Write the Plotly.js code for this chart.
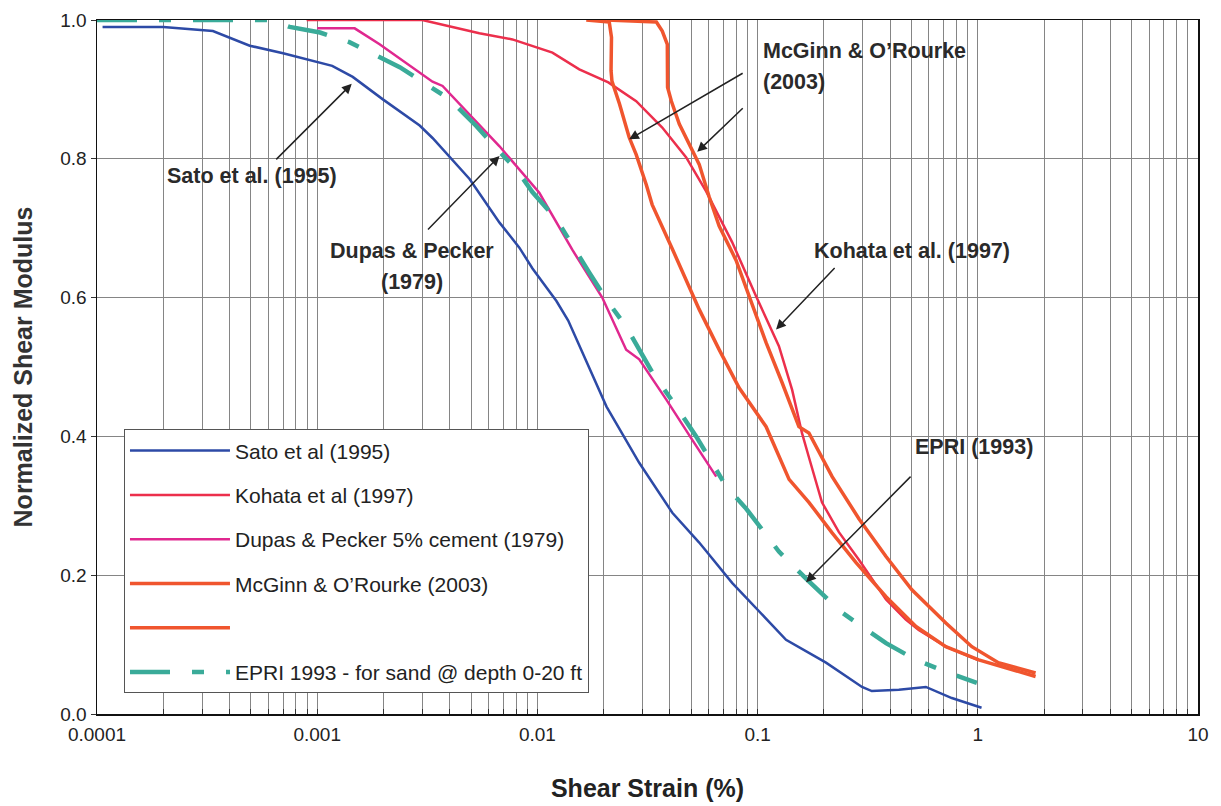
<!DOCTYPE html>
<html>
<head>
<meta charset="utf-8">
<script src="https://cdn.plot.ly/plotly-3.0.1.min.js"></script>
<style>html,body{margin:0;padding:0;background:#fff;}#chart{width:1221px;height:806px;}</style>
</head>
<body>
<div id="chart"></div>
<script>
// ---- data (shear strain in %, normalized shear modulus) ----
const satoX = [1.06e-4, 2.0e-4, 3.36e-4, 4.94e-4, 7.0e-4, 1.17e-3, 1.45e-3, 1.98e-3, 2.92e-3, 3.34e-3, 4.92e-3, 6.73e-3, 8.28e-3, 9.5e-3, 0.0122, 0.0138, 0.0206, 0.029, 0.041, 0.0543, 0.0766, 0.1346, 0.2045, 0.298, 0.330, 0.438, 0.581, 0.762, 1.04];
const satoY = [0.990, 0.990, 0.984, 0.963, 0.952, 0.934, 0.918, 0.886, 0.848, 0.830, 0.771, 0.708, 0.672, 0.642, 0.595, 0.567, 0.443, 0.362, 0.290, 0.247, 0.189, 0.107, 0.074, 0.039, 0.033, 0.035, 0.039, 0.023, 0.009];

const kohataX = [8.95e-4, 3.0e-3, 5.45e-3, 7.7e-3, 0.0117, 0.0155, 0.021, 0.0281, 0.0369, 0.0474, 0.0584, 0.0766, 0.0984, 0.125, 0.1435, 0.159, 0.171, 0.196, 0.234, 0.289, 0.383, 0.471, 0.539, 0.716, 1.0];
const kohataY = [1.0, 1.0, 0.981, 0.972, 0.953, 0.929, 0.910, 0.883, 0.845, 0.802, 0.753, 0.680, 0.602, 0.530, 0.467, 0.405, 0.370, 0.305, 0.262, 0.222, 0.165, 0.136, 0.121, 0.097, 0.078];

const dupasX = [1.0e-3, 1.48e-3, 1.92e-3, 2.71e-3, 3.34e-3, 3.71e-3, 6.73e-3, 0.0102, 0.0144, 0.0197, 0.0253, 0.029, 0.0385, 0.0505, 0.0649];
const dupasY = [0.988, 0.988, 0.965, 0.932, 0.911, 0.905, 0.818, 0.751, 0.669, 0.600, 0.525, 0.511, 0.453, 0.395, 0.342];

const mcginnAX = [0.01667, 0.0212, 0.0217, 0.0216, 0.0218, 0.0236, 0.0261, 0.0281, 0.0312, 0.0332, 0.0410, 0.0543, 0.0669, 0.0824, 0.1093, 0.139, 0.171, 0.218, 0.280, 0.383, 0.524, 0.716, 1.01, 1.43, 1.83];
const mcginnAY = [1.0, 0.997, 0.975, 0.927, 0.912, 0.879, 0.831, 0.806, 0.763, 0.734, 0.670, 0.583, 0.525, 0.470, 0.414, 0.338, 0.305, 0.261, 0.218, 0.169, 0.126, 0.097, 0.078, 0.064, 0.054];

const mcginnBX = [0.0206, 0.0347, 0.0369, 0.0389, 0.0390, 0.0406, 0.0441, 0.0489, 0.0543, 0.0603, 0.0669, 0.0798, 0.0914, 0.1093, 0.129, 0.154, 0.171, 0.218, 0.289, 0.383, 0.502, 0.716, 0.940, 1.24, 1.83];
const mcginnBY = [1.0, 0.997, 0.984, 0.965, 0.903, 0.883, 0.850, 0.821, 0.792, 0.745, 0.703, 0.654, 0.602, 0.535, 0.478, 0.414, 0.405, 0.342, 0.281, 0.227, 0.179, 0.131, 0.097, 0.074, 0.059];

const epriX = [1e-4, 6.1e-4, 7.5e-4, 1.03e-3, 1.40e-3, 2.37e-3, 3.99e-3, 5.29e-3, 6.73e-3, 8.03e-3, 9.49e-3, 0.0122, 0.0172, 0.0206, 0.0253, 0.0333, 0.0427, 0.0526, 0.072, 0.0887, 0.125, 0.166, 0.242, 0.383, 0.524, 0.739, 0.99];
const epriY = [1.0, 1.0, 0.990, 0.982, 0.968, 0.932, 0.886, 0.847, 0.810, 0.785, 0.752, 0.713, 0.636, 0.597, 0.558, 0.492, 0.443, 0.400, 0.328, 0.296, 0.234, 0.195, 0.146, 0.102, 0.078, 0.059, 0.045];

const seriesNames = ["Sato et al (1995)", "Kohata et al (1997)", "Dupas & Pecker 5% cement (1979)", "McGinn & O\u2019Rourke (2003)", " ", "EPRI 1993 - for sand @ depth 0-20 ft"];
const decadeTicks = [1e-4, 1e-3, 1e-2, 1e-1, 1, 10];
const decadeLabels = ["0.0001", "0.001", "0.01", "0.1", "1", "10"];

// ---- styling ----
const FONT = "Liberation Sans, Arial, Helvetica, sans-serif";
const colors = ["#2d4aa6", "#ec2f4c", "#e0288f", "#f0552e", "#f0552e", "#3aab99"];
const widths = [2.5, 2.5, 2.5, 3.5, 3.5, 4.5];

const xs = [satoX, kohataX, dupasX, mcginnAX, mcginnBX, epriX];
const ys = [satoY, kohataY, dupasY, mcginnAY, mcginnBY, epriY];

const traces = xs.map((x, i) => ({
  type: "scatter", mode: "lines", x: x, y: ys[i], name: seriesNames[i],
  legendgroup: "g" + i,
  line: {color: colors[i], width: widths[i], dash: i === 5 ? "40px,22px,12px,22px" : "solid"}
}));

// axis ticks: every 1..9 in each decade for grid lines, labels only on decades
const tickVals = [], tickText = [];
for (let d = 0; d < decadeTicks.length; d++) {
  const base = decadeTicks[d];
  for (let m = 1; m <= 9; m++) {
    if (d === decadeTicks.length - 1 && m > 1) break;
    tickVals.push(base * m);
    tickText.push(m === 1 ? decadeLabels[d] : "");
  }
}

const L = Math.log10;
function arrow(hx, hy, ax, ay) {
  return {x: L(hx), y: hy, xref: "x", yref: "y", ax: ax, ay: ay, axref: "pixel", ayref: "pixel",
          text: "", showarrow: true, arrowhead: 2, arrowsize: 1.3, arrowwidth: 1.5, arrowcolor: "#222"};
}
function label(x, y, txt, anchor) {
  return {x: L(x), y: y, xref: "x", yref: "y", text: "<b>" + txt + "</b>", showarrow: false,
          xanchor: anchor || "center", yanchor: "middle",
          font: {family: FONT, size: 21.5, color: "#2a2a2a"}};
}

const annotations = [
  arrow(1.435e-3, 0.908, -77, 77),
  arrow(6.73e-3, 0.804, -73, 75),
  arrow(0.0261, 0.828, 115, -67),
  arrow(0.0532, 0.810, 47, -45),
  arrow(0.1213, 0.554, 60, -63),
  arrow(0.166, 0.190, 106, -107),
  label(5.05e-4, 0.775, "Sato et al. (1995)"),
  label(2.69e-3, 0.667, "Dupas &amp; Pecker"),
  label(2.69e-3, 0.622, "(1979)"),
  label(0.1038, 0.955, "McGinn &amp; O\u2019Rourke", "left"),
  label(0.1038, 0.911, "(2003)", "left"),
  label(0.502, 0.667, "Kohata et al. (1997)"),
  label(0.96, 0.385, "EPRI (1993)")
];

const layout = {
  width: 1221, height: 806,
  margin: {l: 97, r: 23, t: 20, b: 92},
  paper_bgcolor: "#ffffff", plot_bgcolor: "#ffffff",
  font: {family: FONT, size: 18, color: "#222"},
  showlegend: true,
  legend: {
    x: 0.0245, y: 0.41, xanchor: "left", yanchor: "top",
    bgcolor: "#ffffff", bordercolor: "#555", borderwidth: 1,
    font: {family: FONT, size: 21, color: "#222"},
    traceorder: "grouped", tracegroupgap: 14, itemwidth: 100
  },
  xaxis: {
    type: "log", range: [-4, 1],
    tickmode: "array", tickvals: tickVals, ticktext: tickText,
    showgrid: true, gridcolor: "#858585", gridwidth: 1,
    showline: true, linecolor: "#111", linewidth: 1.5, mirror: true,
    ticks: "inside", ticklen: 5, tickcolor: "#333", ticklabelstandoff: 3,
    tickfont: {family: FONT, size: 19, color: "#222"},
    zeroline: false,
    title: {text: "<b>Shear Strain (%)</b>", font: {family: FONT, size: 25, color: "#222"}, standoff: 35}
  },
  yaxis: {
    range: [0, 1], dtick: 0.2, tickformat: ".1f",
    showgrid: true, gridcolor: "#858585", gridwidth: 1,
    showline: true, linecolor: "#111", linewidth: 1.5, mirror: true,
    ticks: "outside", ticklen: 5, tickcolor: "#333",
    tickfont: {family: FONT, size: 19, color: "#222"},
    zeroline: false,
    title: {text: "<b>Normalized Shear Modulus</b>", font: {family: FONT, size: 25, color: "#333"}, standoff: 20}
  },
  annotations: annotations
};

Plotly.newPlot("chart", traces, layout, {displayModeBar: false, staticPlot: true});
</script>
</body>
</html>
